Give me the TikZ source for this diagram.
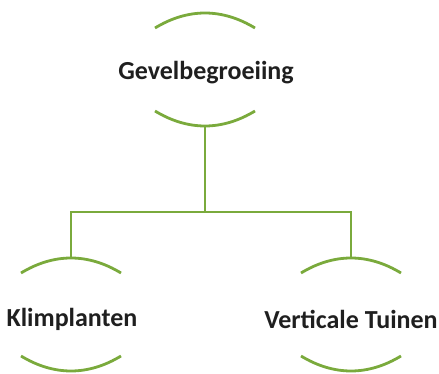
\documentclass[tikz,border=0pt]{standalone}
\usepackage{fontspec}
\setmainfont{Carlito}
\definecolor{leaf}{RGB}{122,170,60}
\begin{document}
\begin{tikzpicture}[x=1pt,y=-1pt,
  arcline/.style={draw=leaf,line width=2.8pt},
  conn/.style={draw=leaf,line width=2.8pt},
  label/.style={font=\bfseries\fontsize{26}{30}\selectfont,text=black!88,inner sep=0pt}]
\useasboundingbox (0,0) rectangle (439,374);
\node[label] (gev) at (206,73) {Gevelbegroeiing};
\node[label] (kli) at (72,319) {Klimplanten};
\node[label] (ver) at (351,319) {Verticale Tuinen};
% arcs
\foreach \cx/\ty/\by in {205/13/126, 71/258/371, 351/258/371}{
  \draw[arcline] (\cx-50,\ty+15) .. controls (\cx-17,\ty-5) and (\cx+17,\ty-5) .. (\cx+50,\ty+15);
  \draw[arcline] (\cx-50,\by-15) .. controls (\cx-17,\by+5) and (\cx+17,\by+5) .. (\cx+50,\by-15);
}
% connectors
\coordinate (gb) at (205,126);
\coordinate (kt) at (71,258);
\coordinate (vt) at (351,258);
\coordinate (j) at (205,212);
\draw[conn] (gb) -- (j);
\draw[conn,line join=miter] (kt) |- (j) -| (vt);
\end{tikzpicture}
\end{document}
